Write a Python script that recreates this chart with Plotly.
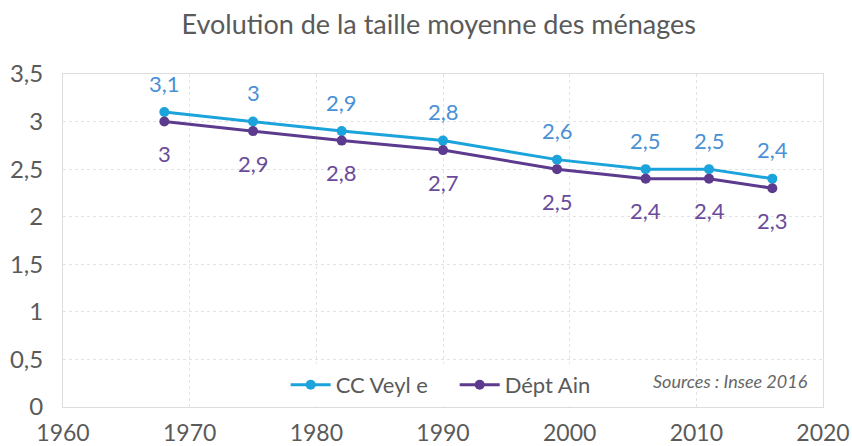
import plotly.graph_objects as go

years = [1968, 1975, 1982, 1990, 1999, 2006, 2011, 2016]
cc_veyle = [3.1, 3.0, 2.9, 2.8, 2.6, 2.5, 2.5, 2.4]
dept_ain = [3.0, 2.9, 2.8, 2.7, 2.5, 2.4, 2.4, 2.3]
x_ticks = [1960, 1970, 1980, 1990, 2000, 2010, 2020]
y_ticks = [0, 0.5, 1, 1.5, 2, 2.5, 3, 3.5]

BLUE = "#1ba3db"
PURPLE = "#5c3a8e"
BLUE_TXT = "#4a90d6"
PURPLE_TXT = "#6a4b9b"
FONT = "Lato"
GRAY = "#5a5a5a"

def fr(v):
    s = f"{v:g}"
    return s.replace(".", ",")

fig = go.Figure()
fig.add_trace(go.Scatter(x=years, y=cc_veyle, mode="lines+markers", name="CC Veyl e",
                         line=dict(color=BLUE, width=3), marker=dict(size=10, color=BLUE)))
fig.add_trace(go.Scatter(x=years, y=dept_ain, mode="lines+markers", name="Dépt Ain",
                         line=dict(color=PURPLE, width=3), marker=dict(size=10, color=PURPLE)))

annotations = []
for x, y in zip(years, cc_veyle):
    annotations.append(dict(x=x, y=y, text=fr(y), showarrow=False, yshift=29,
                            font=dict(family=FONT, size=22, color=BLUE_TXT)))
for x, y in zip(years, dept_ain):
    annotations.append(dict(x=x, y=y, text=fr(y), showarrow=False, yshift=-32,
                            font=dict(family=FONT, size=22, color=PURPLE_TXT)))
annotations.append(dict(xref="paper", yref="paper", x=0.983, y=0.078, xanchor="right", yanchor="middle",
                        text="<i>Sources : Insee 2016</i>", showarrow=False,
                        font=dict(family=FONT, size=18, color="#666666")))

fig.update_layout(
    width=852, height=446,
    margin=dict(l=63, r=29, t=74, b=39, autoexpand=False),
    paper_bgcolor="white", plot_bgcolor="white",
    title=dict(text="Evolution de la taille moyenne des ménages", x=0.515, xanchor="center",
               y=0.944, yanchor="middle", font=dict(family=FONT, size=27, color=GRAY)),
    font=dict(family=FONT, color=GRAY),
    showlegend=True,
    legend=dict(orientation="h", x=0.293, xanchor="left", y=0.066, yanchor="middle",
                bgcolor="white", font=dict(family=FONT, size=22, color=GRAY),
                itemwidth=40, entrywidth=114, entrywidthmode="pixels", tracegroupgap=0),
    annotations=annotations,
)
fig.update_xaxes(range=[1960, 2020], tickvals=x_ticks, ticktext=[str(t) for t in x_ticks],
                 showgrid=True, gridcolor="#e3e3e3", griddash="dot",
                 showline=True, linecolor="#dddddd", mirror=True, automargin=False,
                 zeroline=False, ticks="", ticklabelstandoff=5,
                 tickfont=dict(family=FONT, size=23, color=GRAY))
fig.update_yaxes(range=[0, 3.5], tickvals=y_ticks, ticktext=[fr(t) for t in y_ticks],
                 showgrid=True, gridcolor="#e3e3e3", griddash="dot",
                 showline=True, linecolor="#dddddd", mirror=True, automargin=False,
                 zeroline=False, ticks="", ticklabelstandoff=14,
                 tickfont=dict(family=FONT, size=24, color=GRAY))

fig.write_html("out.html", config={"displayModeBar": False},
               post_script="document.body.style.margin='0';document.body.style.overflow='hidden';")
